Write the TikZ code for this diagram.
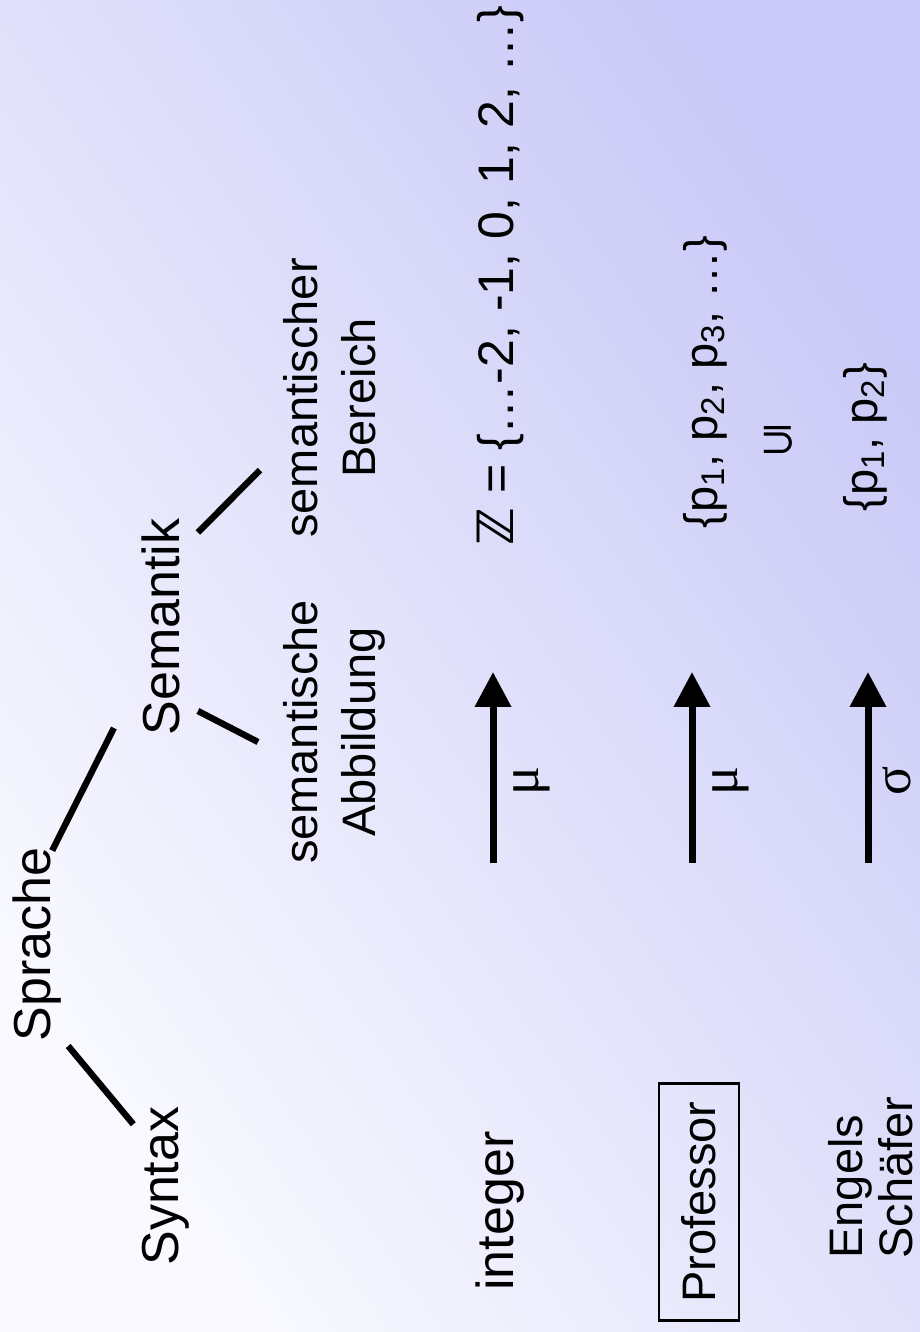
\documentclass[tikz,border=0pt]{standalone}
\usepackage{fontspec}
\setmainfont{Liberation Sans}
\newfontfamily\greekfont{Liberation Serif}
\newfontfamily\symbfont{DejaVu Sans}
\usetikzlibrary{calc}
\usetikzlibrary{arrows.meta}

\definecolor{slidetop}{HTML}{F9F9FF}
\definecolor{slidebot}{HTML}{C9C9F7}

\tikzset{
  big/.style={inner sep=0pt,font=\fontsize{26}{30}\selectfont},
  small/.style={inner sep=0pt,font=\fontsize{23.5}{29}\selectfont},
  branch/.style={line width=3.2pt},
  mapto/.style={line width=3.5pt,-{Triangle[width=17.5pt,length=17.5pt]}},
  maplbl/.style={inner sep=0pt,font=\greekfont\fontsize{27}{30}\selectfont},
}

\begin{document}
\begin{tikzpicture}[x=0.5pt,y=0.5pt,rotate=90,transform shape]
\shade[left color=slidetop,right color=slidebot,shading angle=125] (0,-920) rectangle (1332,0);
\useasboundingbox (0,-920) rectangle (1332,0);

% tree
\node[big,anchor=base west] (sprache) at (290,-50) {Sprache};
\node[big,anchor=base west] (syntax) at (66,-178) {Syntax};
\node[big,anchor=base west] (semantik) at (596,-179) {Semantik};
\node[small,anchor=north,align=center] (abb) at (600,-283) {semantische\\Abbildung};
\node[small,anchor=north,align=center] (bereich) at (934,-283) {semantischer\\Bereich};

\draw[branch] ($(sprache.south west)+(-4,-7)$) -- ($(syntax.north east)+(-18,8)$);
\draw[branch] ($(sprache.south east)+(-3,9)$) -- ($(semantik.north west)+(8,27)$);
\draw[branch] ($(semantik.south west)+(25,-18)$) -- ($(abb.north)+(-10,25)$);
\draw[branch] ($(semantik.south east)+(-14,-18)$) -- ($(bereich.north west)+(68,23)$);

% examples
\node[big,anchor=base west] (integer) at (41,-513) {integer};
\node[anchor=base west,inner sep=0pt,font=\fontsize{25}{30}\selectfont] (zset) at (786,-513) {{\symbfont\bfseries ℤ} = \{…-2, -1, 0, 1, 2, …\}};

\node[small,draw,line width=1.4pt,minimum width=118.5pt,minimum height=40pt] (professor) at (130,-699) {Professor};
\node[small,anchor=base west] (pbig) at (803,-717) {\{p\textsubscript{1}, p\textsubscript{2}, p\textsubscript{3}, …\}};
\node[inner sep=0pt,rotate=90,font=\symbfont\fontsize{22}{24}\selectfont] (sub) at (892,-778) {⊆};
\node[small,anchor=base west] (psmall) at (820,-877) {\{p\textsubscript{1}, p\textsubscript{2}\}};

\node[anchor=north west,align=left,inner sep=0pt,font=\fontsize{23.5}{25}\selectfont] (names) at (73,-828) {Engels\\Schäfer};

% maps
\coordinate (tail1) at (469,-493);
\coordinate (head1) at (660,-493);
\coordinate (tail2) at (469,-692);
\coordinate (head2) at (660,-692);
\coordinate (tail3) at (469,-868);
\coordinate (head3) at (660,-868);
\draw[mapto] (tail1) -- node[maplbl,pos=0.43,below=8.5pt] (mu1) {μ} (head1);
\draw[mapto] (tail2) -- node[maplbl,pos=0.43,below=8.5pt] (mu2) {μ} (head2);
\draw[mapto] (tail3) -- node[maplbl,pos=0.43,below=5.5pt] (sigma) {σ} (head3);
\end{tikzpicture}
\end{document}
